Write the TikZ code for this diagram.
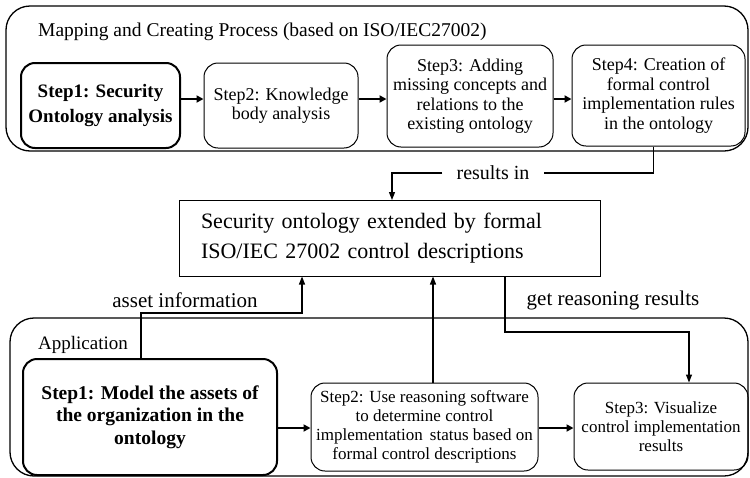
\documentclass[tikz,border=0pt]{standalone}
\usepackage{fontspec}
\setmainfont{Liberation Serif}
\usetikzlibrary{arrows.meta,calc}
\begin{document}
\begin{tikzpicture}[x=1pt,y=-1pt,
  stepbox/.style={draw, rounded corners=14pt, align=center, inner sep=2pt, line width=1pt, font=\fontsize{18}{19.5}\selectfont},
  lowbox/.style={stepbox, font=\fontsize{17}{19}\selectfont},
  boldbox/.style={stepbox, line width=2pt, font=\fontsize{19}{25}\selectfont\bfseries},
  group/.style={draw, line width=1.3pt, rounded corners=24pt},
  conn/.style={line width=1.3pt, -{Triangle[length=8pt,width=6pt]}},
  flow/.style={line width=2.2pt, -{Triangle[length=7pt,width=7pt]}},
  lbl/.style={font=\fontsize{21}{24}\selectfont, inner sep=0pt}
]
\useasboundingbox (0,0) rectangle (750,477);
\clip (0,0) rectangle (750,477);
\fill[white] (0,0) rectangle (750,477);

% top group
\draw[group] (6,6) rectangle (748,151);
\node[anchor=west, inner sep=0pt, font=\fontsize{19.5}{21}\selectfont] (title) at (38,32) {Mapping and Creating Process (based on ISO/IEC27002)};

\node[boldbox, minimum width=159pt, minimum height=85pt] (T1) at (100.5,105.5) {Step1: Security\\Ontology analysis};
\node[stepbox, minimum width=154pt, minimum height=85pt] (T2) at (281,105.5) {Step2: Knowledge\\body analysis};
\node[stepbox, minimum width=166pt, minimum height=102pt] (T3) at (470,96) {Step3: Adding\\missing concepts and\\relations to the\\existing ontology};
\node[stepbox, minimum width=173pt, minimum height=101pt] (T4) at (658.5,95.5) {Step4: Creation of\\formal control\\implementation rules\\in the ontology};

\draw[flow] (T1.east |- 0,99) -- (T2.west |- 0,99);
\draw[flow] (T2.east |- 0,99) -- (T3.west |- 0,99);
\draw[flow] (T3.east |- 0,99) -- (T4.west |- 0,99);

% middle
\node[draw, line width=1pt, minimum width=421pt, minimum height=76pt, text width=377pt, inner xsep=22pt, align=left, font=\fontsize{22}{30}\selectfont] (M) at (389.5,238) {Security ontology extended by formal\\ISO/IEC 27002 control descriptions};

\node[lbl, inner xsep=14pt, font=\fontsize{20}{22}\selectfont] (ri) at (493,173) {results in};
\coordinate (mtop) at (392,200);
\draw[line width=1.3pt] ([xshift=-5pt]T4.south) |- (ri.east);
\draw[conn] (ri.west) -| (mtop);

% bottom group
\draw[group] (10,318) rectangle (748,476);
\node[anchor=west, inner sep=0pt, font=\fontsize{19}{21}\selectfont] (app) at (38,345) {Application};

\node[boldbox, minimum width=254pt, minimum height=116pt, font=\fontsize{19.5}{22.5}\selectfont\bfseries] (B1) at (150,417) {Step1: Model the assets of\\the organization in the\\ontology};
\node[lowbox, minimum width=227pt, minimum height=88pt] (B2) at (424.5,427) {Step2: Use reasoning software\\to determine control\\implementation\, status based on\\formal control descriptions};
\node[lowbox, minimum width=174pt, minimum height=87pt] (B3) at (661,426.5) {Step3: Visualize\\control implementation\\results};

\draw[flow] (B1.east |- 0,428) -- (B2.west |- 0,428);
\draw[flow] (B2.east |- 0,428) -- (B3.west |- 0,428);

% labels
\node[lbl] (ai) at (185,300) {asset information};
\node[lbl] (gr) at (613,300) {get reasoning results};

\coordinate (ab) at (302,313);
\draw[conn] ([xshift=-9pt]B1.north) |- (ab) -- (ab |- M.south);
\coordinate (b2t) at ([xshift=8.5pt]B2.north);
\draw[conn] (b2t) -- (b2t |- M.south);
\coordinate (gx) at (505,332);
\draw[conn] (gx |- M.south) -- (gx) -| ([xshift=28pt]B3.north);
\end{tikzpicture}
\end{document}
